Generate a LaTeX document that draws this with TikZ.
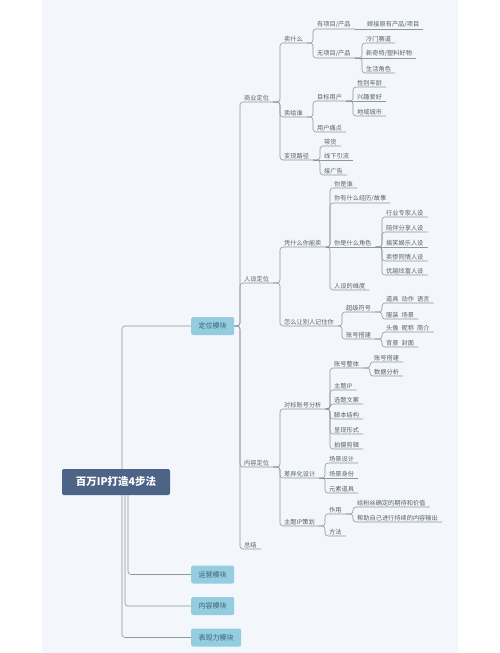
\documentclass[tikz,border=0pt]{standalone}
\usepackage{fontspec}
\setmainfont{Noto Sans CJK SC}
\usepackage{xcolor}
\usepackage{tikz}

\definecolor{panel}{HTML}{F3F7FB}
\definecolor{wire}{HTML}{8E969E}
\definecolor{ink}{HTML}{596067}
\definecolor{rootfill}{HTML}{4E6486}
\definecolor{modfill}{HTML}{94CCE0}
\definecolor{modink}{HTML}{3E6075}

\begin{document}
\begin{tikzpicture}[x=1pt, y=-1pt,
     every node/.style={font=\fontsize{6.2}{7}\selectfont, text=ink},
     item/.style={anchor=south west, inner xsep=4pt, inner ysep=1.2pt},
     module/.style={anchor=west, fill=modfill, rounded corners=2pt, text=modink, font=\fontsize{7}{8}\selectfont, inner xsep=7.5pt, minimum height=18pt},
     link/.style={draw=wire, line width=0.6pt, rounded corners=3pt}]
     \useasboundingbox (0,0) rectangle (500,653);
     \fill[panel] (42,0) rectangle (458,653);

     \node[fill=rootfill, rounded corners=2pt, text=white, font=\bfseries\fontsize{10.5}{12}\selectfont, minimum width=108pt, minimum height=26pt] (root) at (116,482) {百万IP打造4步法};

     \node[module] (pos) at (191,326) {定位模块};
     \node[module] (ops) at (191,574.5) {运营模块};
     \node[module] (cnt) at (191,606) {内容模块};
     \node[module] (exp) at (191,637.5) {表现力模块};

     % 定位模块
     \node[item] (biz) at (240,102) {商业定位};
     \node[item] (per) at (240,283) {人设定位};
     \node[item] (con) at (240,467) {内容定位};
     \node[item] (sum) at (240,549) {总结};

     % 商业定位
     \node[item] (what) at (280,43) {卖什么};
     \node[item] (whom) at (280,117) {卖给谁};
     \node[item] (cash) at (280,160) {变现路径};

     \node[item] (hasp) at (313,29) {有项目/产品};
     \node[item] (nop) at (313,58) {无项目/产品};
     \node[item] (graft) at (363,29) {嫁接原有产品/项目};
     \node[item] (niche) at (362,43) {冷门赛道};
     \node[item] (novel) at (362,58) {新奇特/塑料好物};
     \node[item] (life) at (362,73) {生活角色};

     \node[item] (user) at (313,101) {目标用户};
     \node[item] (pain) at (313,132) {用户痛点};
     \node[item] (age) at (353,87) {性别年龄};
     \node[item] (hobby) at (353,101) {兴趣爱好};
     \node[item] (city) at (353,116) {地域城市};

     \node[item] (sell) at (320,146) {带货};
     \node[item] (offl) at (320,160) {线下引流};
     \node[item] (ads) at (320,175) {接广告};

     % 人设定位
     \node[item] (why) at (280,247) {凭什么你能卖};
     \node[item] (mem) at (280,326) {怎么让别人记住你};

     \node[item] (who) at (330,188) {你是谁};
     \node[item] (story) at (330,203) {你有什么经历/故事};
     \node[item] (part) at (330,247) {你是什么角色};
     \node[item] (dim) at (330,290) {人设的维度};
     \node[item] (r1) at (382,217) {行业专家人设};
     \node[item] (r2) at (382,232) {陪伴分享人设};
     \node[item] (r3) at (382,247) {搞笑娱乐人设};
     \node[item] (r4) at (382,261) {卖惨同情人设};
     \node[item] (r5) at (382,275) {优越炫富人设};

     \node[item] (sym) at (342,312) {超级符号};
     \node[item] (acc) at (342,339) {账号搭建};
     \node[item] (s1) at (382,303) {道具\enspace 动作\enspace 语言};
     \node[item] (s2) at (382,319) {服装\enspace 场景};
     \node[item] (a1) at (382,332) {头像\enspace 昵称\enspace 简介};
     \node[item] (a2) at (382,347) {背景\enspace 封面};

     % 内容定位
     \node[item] (bench) at (280,409) {对标账号分析};
     \node[item] (diff) at (280,478) {差异化设计};
     \node[item] (plan) at (280,526) {主题IP策划};

     \node[item] (b1) at (330,368) {账号整体};
     \node[item] (b2) at (330,390) {主题IP};
     \node[item] (b3) at (330,404) {选题文案};
     \node[item] (b4) at (330,419) {脚本结构};
     \node[item] (b5) at (330,434) {呈现形式};
     \node[item] (b6) at (330,449) {拍摄剪辑};
     \node[item] (b11) at (370,362) {账号搭建};
     \node[item] (b12) at (370,376) {数据分析};

     \node[item] (d1) at (325,463) {场景设计};
     \node[item] (d2) at (325,478) {场景身份};
     \node[item] (d3) at (325,493) {元素道具};

     \node[item] (p1) at (325,514) {作用};
     \node[item] (p2) at (325,536) {方法};
     \node[item] (p11) at (353,507) {给粉丝确定的期待和价值};
     \node[item] (p12) at (353,522) {帮助自己进行持续的内容输出};

     % trunk
     \draw[link] ([xshift=6pt]root.north) |- (pos.west);
     \draw[link] ([xshift=12pt]root.south) |- (ops.west);
     \draw[link] ([xshift=9pt]root.south) |- (cnt.west);
     \draw[link] ([xshift=6pt]root.south) |- (exp.west);

     % branches
     \foreach \c in {biz,per,con,sum} \draw[link] (pos.east) -| (\c.south west) -- (\c.south east);
     \foreach \c in {what,whom,cash} \draw[link] (biz.south east) -| (\c.south west) -- (\c.south east);
     \foreach \c in {hasp,nop} \draw[link] (what.south east) -| (\c.south west) -- (\c.south east);
     \draw[link] (hasp.south east) -- (graft.south east);
     \draw[link] (nop.south east) -- (novel.south east);
     \foreach \c in {niche,life} \draw[link] (nop.south east) -| (\c.south west) -- (\c.south east);
     \foreach \c in {user,pain} \draw[link] (whom.south east) -| (\c.south west) -- (\c.south east);
     \draw[link] (user.south east) -- (hobby.south east);
     \foreach \c in {age,city} \draw[link] (user.south east) -| (\c.south west) -- (\c.south east);
     \draw[link] (cash.south east) -- (offl.south east);
     \foreach \c in {sell,ads} \draw[link] (cash.south east) -| (\c.south west) -- (\c.south east);

     \foreach \c in {why,mem} \draw[link] (per.south east) -| (\c.south west) -- (\c.south east);
     \draw[link] (why.south east) -- (part.south east);
     \foreach \c in {who,story,dim} \draw[link] (why.south east) -| (\c.south west) -- (\c.south east);
     \draw[link] (part.south east) -- (r3.south east);
     \foreach \c in {r1,r2,r4,r5} \draw[link] (part.south east) -| (\c.south west) -- (\c.south east);
     \foreach \c in {sym,acc} \draw[link] (mem.south east) -| (\c.south west) -- (\c.south east);
     \foreach \c in {s1,s2} \draw[link] (sym.south east) -| (\c.south west) -- (\c.south east);
     \foreach \c in {a1,a2} \draw[link] (acc.south east) -| (\c.south west) -- (\c.south east);

     \foreach \c in {bench,diff,plan} \draw[link] (con.south east) -| (\c.south west) -- (\c.south east);
     \foreach \c in {b1,b2,b3,b4,b5,b6} \draw[link] (bench.south east) -| (\c.south west) -- (\c.south east);
     \foreach \c in {b11,b12} \draw[link] (b1.south east) -| (\c.south west) -- (\c.south east);
     \draw[link] (diff.south east) -- (d2.south east);
     \foreach \c in {d1,d3} \draw[link] (diff.south east) -| (\c.south west) -- (\c.south east);
     \foreach \c in {p1,p2} \draw[link] (plan.south east) -| (\c.south west) -- (\c.south east);
     \foreach \c in {p11,p12} \draw[link] (p1.south east) -| (\c.south west) -- (\c.south east);
\end{tikzpicture}
\end{document}
